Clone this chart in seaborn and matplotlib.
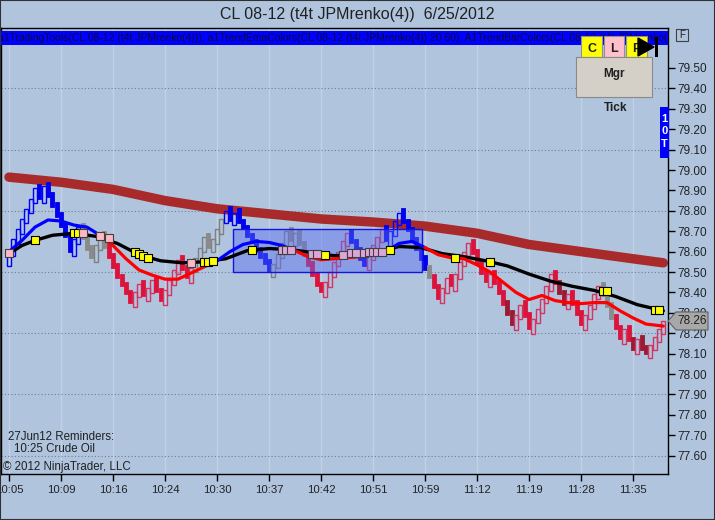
import matplotlib
matplotlib.use("Agg")
import matplotlib.pyplot as plt
import seaborn as sns
import numpy as np
from matplotlib.patches import Rectangle, Polygon

sns.set_style("white")
plt.rcParams['font.family'] = ['Liberation Sans', 'DejaVu Sans']

W, H = 715, 520
BG = '#B0C4DE'

# ---------------- data ----------------
title = "CL 08-12 (t4t JPMrenko(4))  6/25/2012"
header = ("a1TradingTools(CL 08-12 (t4t JPMrenko(4))), a1TrendEmaColors(CL 08-12 (t4t JPMrenko(4)) 20 60), "
          "A1TrendBarColors(CL 08-12 (t4t JPMrenko(4)))")
time_labels = ["10:05", "10:09", "10:16", "10:24", "10:30", "10:37", "10:42",
               "10:51", "10:59", "11:12", "11:19", "11:28", "11:35"]
time_label_bars = [0, 12, 24, 36, 48, 60, 72, 84, 96, 108, 120, 132, 144]
price_ticks = [77.6, 77.7, 77.8, 77.9, 78.0, 78.1, 78.2, 78.3, 78.4, 78.5,
               78.6, 78.7, 78.8, 78.9, 79.0, 79.1, 79.2, 79.3, 79.4, 79.5]
dotted_levels = [77.6, 77.9, 78.2, 78.5, 78.8, 79.1, 79.4]

first_open = 78.55
closes = [78.60, 78.66, 78.71, 78.76, 78.81, 78.86, 78.91, 78.86, 78.92, 78.87,
          78.82, 78.77, 78.72, 78.67, 78.60, 78.66, 78.72, 78.66, 78.61, 78.57,
          78.63, 78.68, 78.62, 78.57, 78.52, 78.47, 78.43, 78.39, 78.35, 78.40,
          78.44, 78.38, 78.42, 78.46, 78.40, 78.36, 78.41, 78.46, 78.51, 78.56,
          78.51, 78.47, 78.52, 78.57, 78.62, 78.67, 78.62, 78.66, 78.71, 78.76,
          78.80, 78.75, 78.79, 78.74, 78.71, 78.67, 78.64, 78.60, 78.57, 78.54,
          78.50, 78.54, 78.59, 78.64, 78.70, 78.65, 78.69, 78.63, 78.58, 78.53,
          78.48, 78.43, 78.40, 78.45, 78.50, 78.55, 78.60, 78.65, 78.69, 78.64,
          78.60, 78.56, 78.53, 78.58, 78.63, 78.67, 78.71, 78.65, 78.70, 78.75,
          78.79, 78.74, 78.70, 78.65, 78.61, 78.56, 78.51, 78.47, 78.42, 78.37,
          78.42, 78.47, 78.43, 78.49, 78.55, 78.60, 78.64, 78.59, 78.54, 78.49,
          78.45, 78.49, 78.44, 78.39, 78.34, 78.29, 78.24, 78.29, 78.34, 78.28,
          78.22, 78.27, 78.32, 78.37, 78.43, 78.49, 78.44, 78.39, 78.34, 78.39,
          78.34, 78.29, 78.24, 78.29, 78.34, 78.39, 78.43, 78.38, 78.33, 78.27,
          78.22, 78.17, 78.22, 78.16, 78.12, 78.17, 78.12, 78.10, 78.14, 78.18,
          78.22, 78.26]
trend = list("BBBBBBBBBBBBBBBBB" "GGGGGG" "RRRRRRRRRRRRRRRRRRRR" "GGGGGGG"
             "BBBBBBBBBBB" "GGGGGGGG" "RRRRRRRRRR" "BBBB" "RRRR" "BBBBBBBBBB" "G"
             "RRRRRRRRRRRRRRRRR" "DD" "RRRRRRRRRR" "DD" "RRRRRRRR" "GGG" "RRRR" "D" "R"
             "DD" "RRRR")

slow_idx = [0, 12, 24, 36, 48, 60, 72, 84, 96, 108, 120, 132, 144, 151]
slow_val = [78.965, 78.94, 78.905, 78.85, 78.81, 78.785, 78.76, 78.745, 78.725,
            78.69, 78.635, 78.60, 78.565, 78.545]

mid_idx = [0, 3, 6, 10, 15, 20, 25, 30, 35, 40, 45, 50, 55, 60, 65, 70, 75, 80,
           85, 90, 95, 100, 105, 110, 115, 120, 125, 130, 135, 140, 145, 151]
mid_val = [78.59, 78.63, 78.655, 78.68, 78.69, 78.675, 78.64, 78.585, 78.555,
           78.545, 78.55, 78.565, 78.605, 78.615, 78.61, 78.595, 78.58, 78.585,
           78.60, 78.625, 78.62, 78.59, 78.575, 78.555, 78.53, 78.49, 78.455,
           78.43, 78.41, 78.38, 78.34, 78.31]

fast_idx = [0, 3, 6, 9, 12, 15, 18, 21, 24, 27, 30, 33, 36, 39, 42, 45, 48, 51,
            54, 57, 60, 63, 66, 69, 72, 75, 78, 81, 84, 87, 90, 93, 96, 99, 102,
            105, 108, 111, 114, 117, 120, 123, 126, 129, 132, 135, 138, 141, 144,
            147, 151]
fast_val = [78.60, 78.655, 78.72, 78.755, 78.75, 78.73, 78.72, 78.68, 78.63,
            78.565, 78.51, 78.485, 78.465, 78.465, 78.495, 78.525, 78.555, 78.60,
            78.635, 78.65, 78.645, 78.63, 78.605, 78.575, 78.56, 78.565, 78.57,
            78.575, 78.585, 78.60, 78.64, 78.65, 78.62, 78.585, 78.57, 78.565,
            78.535, 78.50, 78.45, 78.40, 78.365, 78.385, 78.36, 78.35, 78.345,
            78.35, 78.35, 78.31, 78.275, 78.245, 78.235]
# colour of the segment starting at each point
fast_trend = list("BBBBBBB" "RRRRRRRRR" "BBBBBB" "RRRRRRR" "BBB" "RRRRRRRRRRRRRRRRRRR")

yellow_idx = [6, 15, 16, 29, 30, 31, 32, 45, 46, 47, 56, 73, 88, 103, 111, 137, 138, 149, 150]
yellow_val = [78.655, 78.69, 78.69, 78.60, 78.59, 78.58, 78.57, 78.55, 78.55, 78.555,
              78.61, 78.585, 78.61, 78.57, 78.55, 78.405, 78.405, 78.315, 78.315]
pink_idx = [0, 17, 21, 23, 42]
pink_val = [78.595, 78.69, 78.675, 78.665, 78.545]
plum_idx = [63, 64, 65, 70, 71, 77, 79, 80, 82, 83, 84, 85, 86]
plum_val = [78.61, 78.61, 78.61, 78.59, 78.59, 78.585, 78.595, 78.595, 78.595,
            78.60, 78.60, 78.60, 78.60]

zone_bars = [51.7, 95.4]
zone_prices = [78.50, 78.71]
last_price = 78.26

# ---------------- styles ----------------
up_edge = {'B': '#0000FF', 'G': '#7F7F7F', 'R': '#D2355F', 'D': '#D2355F'}
down_face = {'B': '#0000EE', 'G': '#8A8A8A', 'R': '#DC143C', 'D': '#9B1B32'}
line_col = {'B': '#0000FF', 'R': '#FF0000'}
BRICK_OVERLAP = 0.022   # brick body drawn a little past its open (visual style)
BRICK_WIDTH = 0.95

fig = plt.figure(figsize=(W / 100, H / 100), dpi=100)
fig.patch.set_facecolor(BG)
AXL, AXR, AXT, AXB = 1, 668, 28, 474
ax = fig.add_axes([AXL / W, 1 - AXB / H, (AXR - AXL) / W, (AXB - AXT) / H])
ax.set_facecolor(BG)
spacing = 52 / 12
X0 = 9
ax.set_xlim((AXL - X0) / spacing, (AXR - X0) / spacing)
ax.set_ylim(77.51, 79.696)

# grid
for b in time_label_bars:
    ax.axvline(b, color='#C4D2E6', lw=1.0, zorder=0.5)
for lv in dotted_levels:
    ax.axhline(lv, color='#6F7F95', lw=0.8, ls=(0, (1, 2)), zorder=0.6)

# slow line
sns.lineplot(x=slow_idx, y=slow_val, color='#A82A2A', lw=6.8, ax=ax,
             estimator=None, sort=False, zorder=1.5)

# renko bricks
opens = [first_open] + closes[:-1]
idx = np.arange(len(closes))
for i in idx:
    o, c, t = opens[i], closes[i], trend[i]
    if c > o:
        lo, hi = o - BRICK_OVERLAP, c
        ax.bar(i, hi - lo, bottom=lo, width=BRICK_WIDTH, facecolor='none',
               edgecolor=up_edge[t], linewidth=1.0, zorder=2)
    else:
        lo, hi = c, o + BRICK_OVERLAP
        ax.bar(i, hi - lo, bottom=lo, width=BRICK_WIDTH, facecolor=down_face[t],
               edgecolor=down_face[t], linewidth=0.6, zorder=2)

# zone rectangle
ax.add_patch(Rectangle((zone_bars[0], zone_prices[0]), zone_bars[1] - zone_bars[0],
                       zone_prices[1] - zone_prices[0], facecolor='#5A6EF0',
                       alpha=0.45, edgecolor='none', zorder=2.5))
ax.add_patch(Rectangle((zone_bars[0], zone_prices[0]), zone_bars[1] - zone_bars[0],
                       zone_prices[1] - zone_prices[0], facecolor='none',
                       edgecolor='#1515E0', lw=1.0, zorder=2.6))

# mid line
sns.lineplot(x=mid_idx, y=mid_val, color='black', lw=2.4, ax=ax,
             estimator=None, sort=False, zorder=3)

# fast line, coloured by segment
start = 0
for k in range(1, len(fast_idx)):
    if k == len(fast_idx) - 1 or fast_trend[k] != fast_trend[start]:
        end = k
        sns.lineplot(x=fast_idx[start:end + 1], y=fast_val[start:end + 1],
                     color=line_col[fast_trend[start]], lw=2.3, ax=ax,
                     estimator=None, sort=False, zorder=3.5)
        start = k

# markers
sns.scatterplot(x=yellow_idx, y=yellow_val, marker='s', s=36, color='#FFFF00',
                edgecolor='black', linewidth=0.8, ax=ax, zorder=4)
sns.scatterplot(x=pink_idx, y=pink_val, marker='s', s=36, color='#FFB8C4',
                edgecolor='#404040', linewidth=0.8, ax=ax, zorder=4)
sns.scatterplot(x=plum_idx, y=plum_val, marker='s', s=36, color='#DCA6D8',
                edgecolor='#404040', linewidth=0.8, ax=ax, zorder=4)

# header bar inside plot
hy0 = (AXB - 45) / (AXB - AXT)
hy1 = (AXB - 31) / (AXB - AXT)
ax.add_patch(Rectangle((0, hy0), 1, hy1 - hy0, transform=ax.transAxes,
                       facecolor='#0000FF', edgecolor='none', zorder=10))
ax.text(-3 / (AXR - AXL), (hy0 + hy1) / 2, header, transform=ax.transAxes,
        fontsize=7.5, color='#0A0A38', va='center', ha='left', zorder=11, clip_on=True)

# axes formatting
ax.yaxis.tick_right()
ax.set_yticks(price_ticks)
ax.set_yticklabels([f"{v:.2f}" for v in price_ticks])
ax.set_xticks(time_label_bars)
ax.set_xticklabels(time_labels)
ax.tick_params(axis='y', length=5, width=1, pad=2, labelsize=8.5,
               colors='black', labelcolor='#222222', right=True, left=False)
ax.tick_params(axis='x', length=5, width=1, pad=3, labelsize=8.2,
               colors='black', labelcolor='#222222', bottom=True)
ax.set_xlabel('')
ax.set_ylabel('')
for s in ax.spines.values():
    s.set_color('black')
    s.set_linewidth(1.0)
    s.set_visible(True)


def fx(x):
    return x / W


def fy(y):
    return 1 - y / H


def fbox(x0, y0, x1, y1, **kw):
    r = Rectangle((fx(x0), fy(y1)), (x1 - x0) / W, (y1 - y0) / H,
                  transform=fig.transFigure, **kw)
    fig.add_artist(r)
    return r


# title
fig.text(fx(357), fy(14), title, ha='center', va='center', fontsize=11.5, color='#202020')

# buttons
fbox(581, 36, 602, 57, facecolor='#FFFF00', edgecolor='#909090', lw=0.8, zorder=5)
fbox(604, 36, 624, 57, facecolor='#FFC0CB', edgecolor='#909090', lw=0.8, zorder=5)
fbox(626, 36, 647, 57, facecolor='#FFFF00', edgecolor='#909090', lw=0.8, zorder=5)
for xc, lt in [(591.5, 'C'), (614, 'L'), (636, 'P')]:
    fig.text(fx(xc), fy(49), lt, ha='center', va='center', fontsize=9,
             fontweight='bold', color='#202020', zorder=6)
tri = Polygon([(fx(638), fy(38)), (fx(638), fy(56)), (fx(654), fy(47))],
              closed=True, transform=fig.transFigure, facecolor='black',
              edgecolor='black', zorder=7)
fig.add_artist(tri)
fbox(655, 37, 658, 57, facecolor='black', edgecolor='black', lw=0, zorder=7)

fbox(576, 57, 652, 97, facecolor='#D4D0C8', edgecolor='#8A8A8A', lw=0.8, zorder=5)
fig.text(fx(614), fy(74), 'Mgr', ha='center', va='center', fontsize=8.5,
         fontweight='bold', color='#202020', zorder=6)
fig.text(fx(616), fy(108), 'Tick', ha='center', va='center', fontsize=8.5,
         fontweight='bold', color='#202020', zorder=6)

fbox(660, 107, 669, 158, facecolor='#0000FF', edgecolor='#0000FF', lw=0, zorder=5)
for yc, lt in [(119, '1'), (131, '0'), (144, 'T')]:
    fig.text(fx(664.5), fy(yc), lt, ha='center', va='center', fontsize=8,
             fontweight='bold', color='white', zorder=6)

# F box
fbox(676, 29, 688, 41, facecolor=BG, edgecolor='#404040', lw=0.8, zorder=5)
fig.text(fx(682), fy(35), 'F', ha='center', va='center', fontsize=7,
         color='#202020', zorder=6)

# last price tag
ly = AXT + (79.696 - last_price) / (79.696 - 77.51) * (AXB - AXT)
tag = Polygon([(fx(668), fy(ly)), (fx(676), fy(ly - 9)), (fx(708), fy(ly - 9)),
               (fx(708), fy(ly + 9)), (fx(676), fy(ly + 9))], closed=True,
              transform=fig.transFigure, facecolor='#A8A8A8', edgecolor='#606060',
              lw=0.8, zorder=8)
fig.add_artist(tag)
fig.text(fx(692), fy(ly), f"{last_price:.2f}", ha='center', va='center',
         fontsize=8.5, color='#202020', zorder=9)

# bottom-left notes
fig.text(fx(8), fy(437), "27Jun12 Reminders:", ha='left', va='center', fontsize=8.3, color='#202020')
fig.text(fx(14), fy(449), "10:25 Crude Oil", ha='left', va='center', fontsize=8.3, color='#202020')
fig.text(fx(3), fy(467), "\u00a9 2012 NinjaTrader, LLC", ha='left', va='center', fontsize=8.3, color='#202020')

# outer border
fig.add_artist(Rectangle((0, 0), 1, 1, transform=fig.transFigure, fill=False,
                         edgecolor='#303030', lw=1.5, zorder=20))

fig.savefig('out.png', dpi=100, facecolor=BG)
